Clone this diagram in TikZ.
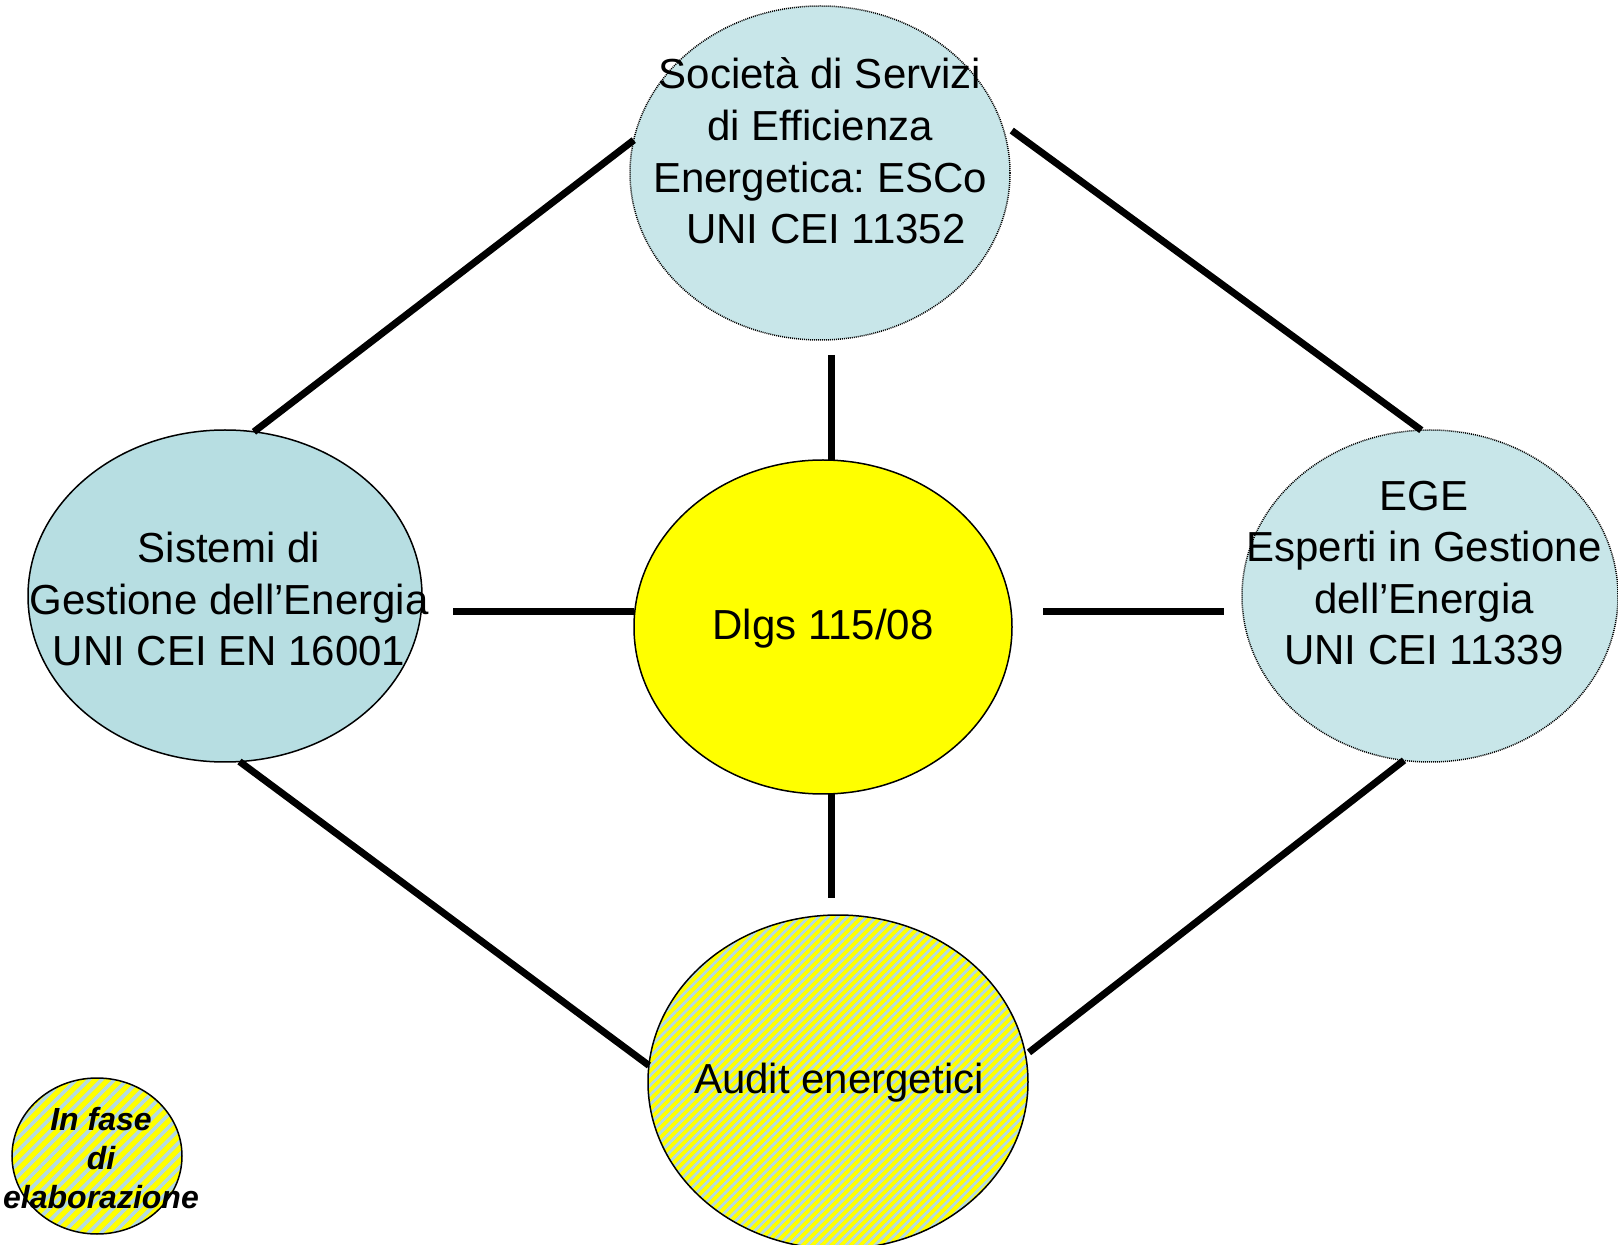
\documentclass[tikz,border=0pt]{standalone}
\usepackage{fontspec}
\setmainfont{Liberation Sans}
\usetikzlibrary{shapes.geometric,patterns.meta}
\definecolor{lblue}{HTML}{B7DEE2}
\definecolor{pblue}{HTML}{C8E6E9}
\definecolor{sblue}{HTML}{B3DAE3}
\definecolor{ylw}{HTML}{FFFF00}
\tikzset{
  blob/.style={ellipse, draw=black, line width=0.75pt, inner sep=0pt, outer sep=0pt},
  dotblob/.style={blob, dash pattern=on 0.5pt off 0.5pt, fill=pblue},
  hatch/.style={blob, preaction={fill=ylw}, pattern={Lines[angle=45,distance=#1,line width=0.4*#1]}, pattern color=sblue},
  txt/.style={align=center, inner sep=0pt, font=\fontsize{21}{25.8}\selectfont},
  link/.style={line width=3.5pt, line cap=butt}
}
\begin{document}
\frenchspacing
\begin{tikzpicture}[x=0.5pt,y=-0.5pt]
\useasboundingbox (0,0) rectangle (1618,1245);
% ellipses
\node[dotblob, minimum width=190pt, minimum height=167pt] (top) at (820,173) {};
\node[blob, fill=lblue, minimum width=197pt, minimum height=166pt] (left) at (225,596) {};
\node[blob, fill=ylw, minimum width=189pt, minimum height=167pt] (center) at (823,627) {};
\node[dotblob, minimum width=188pt, minimum height=166pt] (right) at (1430,596) {};
\node[hatch=3.4pt, minimum width=190pt, minimum height=167pt] (bottom) at (838,1082) {};
\node[hatch=4.5pt, minimum width=85pt, minimum height=78pt] (legend) at (97,1156) {};
% texts
\node[txt] (ttop) at (820,151) {Società di Servizi\\di Efficienza\\Energetica: ESCo\\\ UNI CEI 11352};
\node[txt] (tleft) at (229,599) {Sistemi di\\Gestione dell’Energia\\UNI CEI EN 16001};
\node[txt] (tcenter) at (823,629) {Dlgs 115/08};
\node[txt] (tright) at (1424,573) {EGE\\Esperti in Gestione\\dell’Energia\\UNI CEI 11339};
\node[txt] (tbottom) at (839,1083) {Audit energetici};
\node[align=center, inner sep=0pt, font=\fontsize{16}{19.4}\selectfont\bfseries\itshape] (tlegend) at (101,1158) {In fase\\di\\elaborazione};
% free ends
\coordinate (v1) at (831,355);
\coordinate (v2) at (831,898);
\coordinate (h1) at (453,612);
\coordinate (h2a) at (1043,612);
\coordinate (h2b) at (1224,612);
% connectors
\draw[link] (top.170) -- (left.80);
\draw[link] ([xshift=4pt]top.13) -- (right.93);
\draw[link] (left.275) -- (bottom.175);
\draw[link] (right.261) -- ([xshift=2pt]bottom.9);
\draw[link] (v1) -- (v1 |- center.north);
\draw[link] (center.south -| v2) -- (v2);
\draw[link] (h1) -- (h1 -| center.west);
\draw[link] (h2a) -- (h2b);
\end{tikzpicture}
\end{document}
